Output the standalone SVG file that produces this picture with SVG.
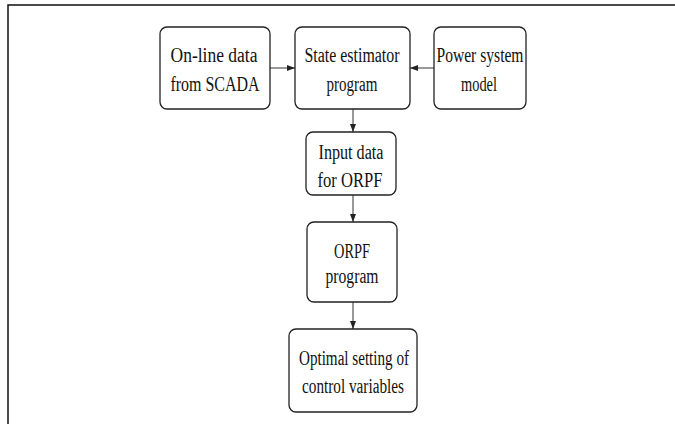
<svg xmlns="http://www.w3.org/2000/svg" width="675" height="424" viewBox="0 0 675 424">
<style>
.box{fill:#fff;stroke:#222;stroke-width:1.3}
.t{font-family:"Liberation Serif","Times New Roman",serif;font-size:20px;fill:#111;text-anchor:middle}
.c{stroke:#333;stroke-width:1;fill:none;marker-end:url(#ah)}
</style>
<defs>
<marker id="ah" viewBox="0 0 8 6" refX="8" refY="3" markerWidth="8" markerHeight="6" markerUnits="userSpaceOnUse" orient="auto">
<path d="M0,0 L8,3 L0,6 z" fill="#222"/>
</marker>
</defs>
<rect width="675" height="424" fill="#fff"/>
<path d="M8,424 V5 H675" fill="none" stroke="#111" stroke-width="1.5"/>
<g id="connectors">
<line class="c" x1="270" y1="68" x2="295" y2="68"/>
<line class="c" x1="434" y1="68" x2="410" y2="68"/>
<line class="c" x1="353" y1="109" x2="353" y2="132"/>
<line class="c" x1="353" y1="195" x2="353" y2="222"/>
<line class="c" x1="353" y1="302" x2="353" y2="329"/>
</g>
<g id="scada">
<rect class="box" x="160" y="27" width="110" height="82" rx="7"/>
<text class="t" x="214" y="62" textLength="87" lengthAdjust="spacingAndGlyphs">On-line data</text>
<text class="t" x="215" y="91" textLength="89" lengthAdjust="spacingAndGlyphs">from SCADA</text>
</g>
<g id="estimator">
<rect class="box" x="295" y="27" width="115" height="82" rx="7"/>
<text class="t" x="352" y="62" textLength="95" lengthAdjust="spacingAndGlyphs">State estimator</text>
<text class="t" x="352" y="91" textLength="51" lengthAdjust="spacingAndGlyphs">program</text>
</g>
<g id="model">
<rect class="box" x="434" y="27" width="92" height="82" rx="7"/>
<text class="t" x="480" y="62" textLength="87" lengthAdjust="spacingAndGlyphs">Power system</text>
<text class="t" x="479" y="91" textLength="36" lengthAdjust="spacingAndGlyphs">model</text>
</g>
<g id="input">
<rect class="box" x="306" y="132" width="90" height="63" rx="7"/>
<text class="t" x="351" y="159" textLength="65" lengthAdjust="spacingAndGlyphs">Input data</text>
<text class="t" x="350" y="187" textLength="65" lengthAdjust="spacingAndGlyphs">for ORPF</text>
</g>
<g id="orpf">
<rect class="box" x="307" y="222" width="90" height="80" rx="7"/>
<text class="t" x="352" y="258" textLength="36" lengthAdjust="spacingAndGlyphs">ORPF</text>
<text class="t" x="352" y="283" textLength="53" lengthAdjust="spacingAndGlyphs">program</text>
</g>
<g id="optimal">
<rect class="box" x="289" y="329" width="128" height="83" rx="7"/>
<text class="t" x="354" y="365" textLength="110" lengthAdjust="spacingAndGlyphs">Optimal setting of</text>
<text class="t" x="353" y="393" textLength="102" lengthAdjust="spacingAndGlyphs">control variables</text>
</g>
</svg>
